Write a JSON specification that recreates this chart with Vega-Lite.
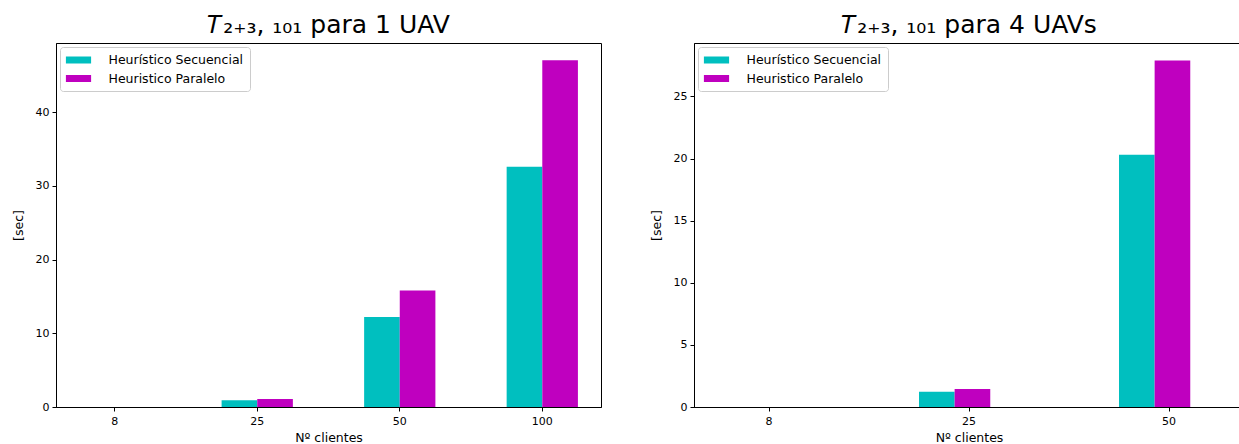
{
  "$schema": "https://vega.github.io/schema/vega-lite/v6.json",
  "background": "white",
  "padding": {"left": 11, "top": 12, "right": 0, "bottom": 0},
  "datasets": {
    "uav1": [
      {"clientes": "8", "serie": "Heurístico Secuencial", "sec": 0.01},
      {"clientes": "8", "serie": "Heuristico Paralelo", "sec": 0.01},
      {"clientes": "25", "serie": "Heurístico Secuencial", "sec": 0.9},
      {"clientes": "25", "serie": "Heuristico Paralelo", "sec": 1.09},
      {"clientes": "50", "serie": "Heurístico Secuencial", "sec": 12.2},
      {"clientes": "50", "serie": "Heuristico Paralelo", "sec": 15.8},
      {"clientes": "100", "serie": "Heurístico Secuencial", "sec": 32.6},
      {"clientes": "100", "serie": "Heuristico Paralelo", "sec": 47.05}
    ],
    "uav4": [
      {"clientes": "8", "serie": "Heurístico Secuencial", "sec": 0.01},
      {"clientes": "8", "serie": "Heuristico Paralelo", "sec": 0.01},
      {"clientes": "25", "serie": "Heurístico Secuencial", "sec": 1.23},
      {"clientes": "25", "serie": "Heuristico Paralelo", "sec": 1.44},
      {"clientes": "50", "serie": "Heurístico Secuencial", "sec": 20.3},
      {"clientes": "50", "serie": "Heuristico Paralelo", "sec": 27.9}
    ]
  },
  "hconcat": [
    {
      "width": 545,
      "height": 364,
      "title": "𝑇₂₊₃, ₁₀₁ para 1 UAV",
      "data": {"name": "uav1"},
      "mark": {"type": "bar"},
      "encoding": {
        "x": {"field": "clientes", "type": "ordinal", "sort": ["8", "25", "50", "100"],
              "scale": {"paddingInner": 0.5, "paddingOuter": 0.162},
              "axis": {"labelAngle": 0, "title": "Nº clientes"}},
        "xOffset": {"field": "serie", "type": "nominal", "sort": ["Heurístico Secuencial", "Heuristico Paralelo"],
                    "scale": {"paddingInner": 0, "paddingOuter": 0}},
        "y": {"field": "sec", "type": "quantitative",
              "scale": {"domain": [0, 49.4], "nice": false},
              "axis": {"values": [0, 10, 20, 30, 40], "title": "[sec]"}},
        "color": {"field": "serie", "type": "nominal",
                  "scale": {"domain": ["Heurístico Secuencial", "Heuristico Paralelo"], "range": ["#00bfbf", "#bf00bf"]},
                  "legend": {"title": null}}
      }
    },
    {
      "width": 550,
      "height": 364,
      "title": "𝑇₂₊₃, ₁₀₁ para 4 UAVs",
      "data": {"name": "uav4"},
      "mark": {"type": "bar"},
      "encoding": {
        "x": {"field": "clientes", "type": "ordinal", "sort": ["8", "25", "50"],
              "scale": {"paddingInner": 0.5, "paddingOuter": 0.125},
              "axis": {"labelAngle": 0, "title": "Nº clientes"}},
        "xOffset": {"field": "serie", "type": "nominal", "sort": ["Heurístico Secuencial", "Heuristico Paralelo"],
                    "scale": {"paddingInner": 0, "paddingOuter": 0}},
        "y": {"field": "sec", "type": "quantitative",
              "scale": {"domain": [0, 29.3], "nice": false},
              "axis": {"values": [0, 5, 10, 15, 20, 25], "title": "[sec]"}},
        "color": {"field": "serie", "type": "nominal",
                  "scale": {"domain": ["Heurístico Secuencial", "Heuristico Paralelo"], "range": ["#00bfbf", "#bf00bf"]},
                  "legend": {"title": null}}
      }
    }
  ],
  "spacing": 47,
  "resolve": {"scale": {"color": "independent", "x": "independent", "y": "independent"}, "legend": {"color": "independent"}},
  "config": {
    "font": "DejaVu Sans",
    "view": {"stroke": "#000", "strokeWidth": 1},
    "axis": {
      "grid": false, "domainColor": "#000", "tickColor": "#000", "labelColor": "#000", "titleColor": "#000",
      "labelFontSize": 11, "titleFontSize": 12.5, "titleFontWeight": "normal", "tickSize": 4,
      "labelFont": "DejaVu Sans", "titleFont": "DejaVu Sans"
    },
    "axisY": {"minExtent": 21, "maxExtent": 21, "titlePadding": 10, "labelPadding": 3},
    "axisX": {"labelPadding": 4, "titlePadding": 5},
    "title": {"fontSize": 25, "fontWeight": "normal", "color": "#000", "anchor": "middle", "offset": 5, "font": "DejaVu Sans"},
    "legend": {
      "orient": "top-left", "offset": 4, "padding": 6, "fillColor": "white", "strokeColor": "#cccccc", "cornerRadius": 3,
      "labelFontSize": 12.5, "labelColor": "#000", "labelFont": "DejaVu Sans",
      "symbolType": "M-1.8,-0.5H1.8V0.5H-1.8Z", "symbolSize": 196, "symbolStrokeWidth": 0, "symbolOpacity": 1,
      "symbolOffset": 5.5, "labelOffset": 23, "rowPadding": 4.5
    }
  }
}
